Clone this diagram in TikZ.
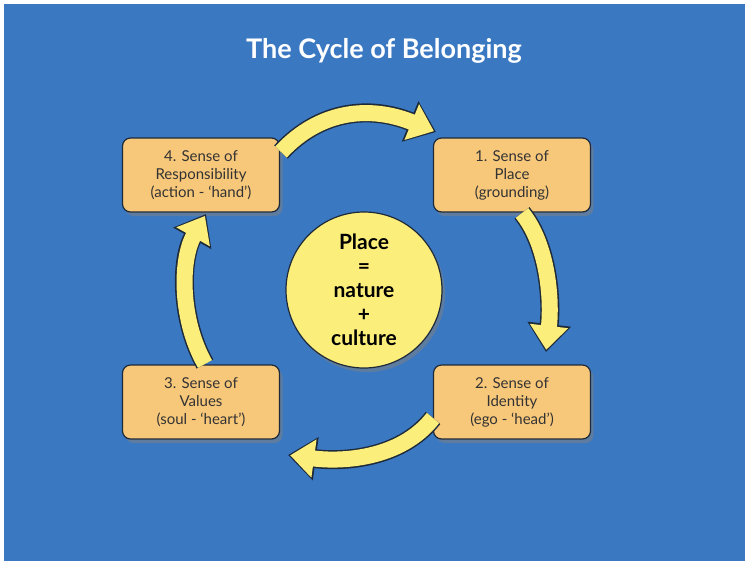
\documentclass[tikz,border=0pt]{standalone}
\usepackage{fontspec}
\setmainfont{Lato}
\usetikzlibrary{arrows.meta,shadows}
\definecolor{bg}{HTML}{3A78C2}
\definecolor{boxc}{HTML}{F7C77A}
\definecolor{ylw}{HTML}{FBEE7A}
\definecolor{edge}{HTML}{1E2A3A}
\tikzset{
  stagebox/.style={draw=edge,line width=1.2pt,fill=boxc,rounded corners=8pt,minimum width=157pt,minimum height=74pt,align=center,font=\fontsize{15}{18}\selectfont,text=black!80,drop shadow={shadow xshift=3pt,shadow yshift=-4pt,opacity=0.5}},
  arrowout/.style={draw=edge,line width=19pt,-{Triangle[width=42pt,length=28pt]}},
  arrowin/.style={draw=ylw,line width=16pt,shorten >=2.2pt,-{Triangle[width=37pt,length=24pt]}},
}
\begin{document}
\begin{tikzpicture}[x=1pt,y=-1pt]
\useasboundingbox (0,0) rectangle (749,566);
\fill[white] (0,0) rectangle (749,566);
\fill[bg] (4,4) rectangle (745,561);
\node (title) [text=white,font=\bfseries\fontsize{27}{30}\selectfont] at (384,51) {The Cycle of Belonging};
\node (s4) [stagebox] at (201,175) {4. Sense of\\Responsibility\\(action - ‘hand’)};
\node (s1) [stagebox] at (512,175) {1. Sense of\\Place\\(grounding)};
\node (s3) [stagebox] at (201,402) {3. Sense of\\Values\\(soul - ‘heart’)};
\node (s2) [stagebox] at (512,402) {2. Sense of\\Identity\\(ego - ‘head’)};
\node (c) [circle,draw=edge,line width=1.2pt,fill=ylw,minimum size=156pt,align=center,font=\bfseries\fontsize{21}{24}\selectfont,drop shadow={shadow xshift=3pt,shadow yshift=-4pt,opacity=0.5}] at (364,290) {Place\\=\\nature\\+\\culture};
\coordinate (a1s) at (281,152); \coordinate (a1e) at (436,132);
\coordinate (a2s) at (522,213); \coordinate (a2e) at (546,352);
\coordinate (a3s) at (433,418); \coordinate (a3e) at (288,455);
\coordinate (a4s) at (205,364); \coordinate (a4e) at (206,214);
\foreach \st in {arrowout,arrowin}{
  \draw[\st] (a1s) .. controls (320,110) and (370,105) .. (a1e);
  \draw[\st] (a2s) .. controls (548,245) and (552,300) .. (a2e);
  \draw[\st] (a3s) .. controls (400,460) and (340,462) .. (a3e);
  \draw[\st] (a4s) .. controls (180,320) and (180,260) .. (a4e);
}
\end{tikzpicture}
\end{document}
